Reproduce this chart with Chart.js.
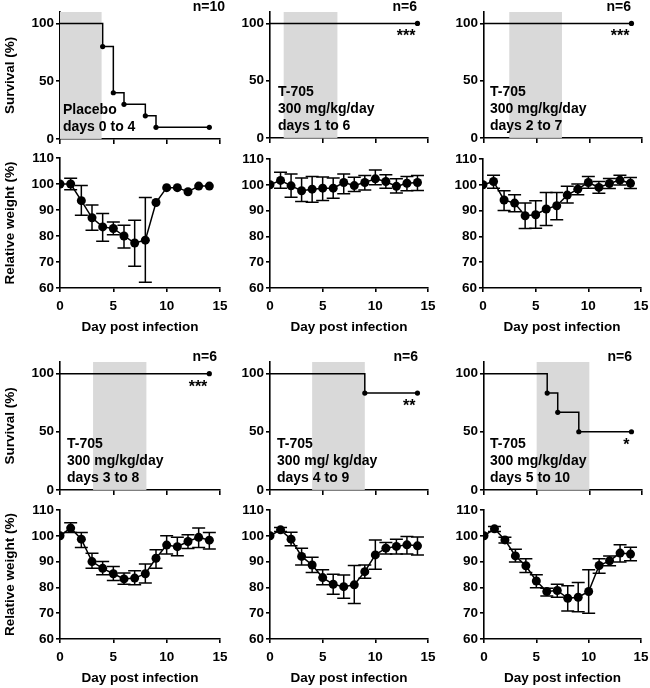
<!DOCTYPE html>
<html>
<head>
<meta charset="utf-8">
<script src="https://cdn.jsdelivr.net/npm/chart.js@4.4.0/dist/chart.umd.min.js"></script>
<style>
    html, body { margin: 0; padding: 0; background: #fff; overflow: hidden; }
    body { width: 650px; height: 688px; position: relative; }
    canvas { position: absolute; }
</style>
</head>
<body>
<script>
// --- Data ---
const days = [0, 1, 2, 3, 4, 5, 6, 7, 8, 9, 10, 11, 12, 13, 14];
const dayTicks = [0, 5, 10, 15];
const survivalTicks = [0, 50, 100];
const weightTicks = [60, 70, 80, 90, 100, 110];

// survival curves (event days, % surviving)
const s1Days = [0, 4, 5, 6, 8, 9, 14];
const s1Pct = [100, 80, 40, 30, 20, 10, 10];
const s2Days = [0, 14];
const s2Pct = [100, 100];
const s3Days = [0, 14];
const s3Pct = [100, 100];
const s4Days = [0, 14];
const s4Pct = [100, 100];
const s5Days = [0, 9, 14];
const s5Pct = [100, 83.3, 83.3];
const s6Days = [0, 6, 7, 9, 14];
const s6Pct = [100, 83.3, 66.7, 50, 50];

// treatment windows (shaded)
const shadeStart = [0, 1.3, 2.4, 3.1, 4, 5];
const shadeEnd = [3.9, 6.4, 7.4, 8.1, 9, 10];

// relative weight: mean, error bar top, error bar bottom
const w1Mean = [100, 100, 93.6, 87.0, 83.5, 82.9, 80.0, 77.3, 78.4, 92.9, 98.6, 98.6, 97.0, 99.2, 99.2];
const w1Hi = [null, 102.2, 99.4, 91.9, 88.7, 85.4, 84.1, 86.1, 94.8, null, null, null, null, null, null];
const w1Lo = [null, 97.8, 88.0, 82.2, 78.0, 80.5, 75.4, 68.4, 62.2, null, null, null, null, null, null];

const w2Mean = [100, 101.7, 99.6, 97.7, 98.3, 98.7, 98.7, 100.9, 99.7, 100.9, 102.3, 101.3, 99.4, 100.6, 100.9];
const w2Hi = [null, 104.9, 104.2, 102.6, 103.2, 103.0, 102.6, 104.2, 102.9, 103.6, 105.7, 103.9, 102.3, 103.2, 103.6];
const w2Lo = [null, 98.7, 95.2, 93.5, 93.2, 93.9, 94.8, 96.5, 97.4, 98.0, 100.0, 98.7, 96.8, 97.7, 97.8];

const w3Mean = [100, 101.3, 94.1, 92.9, 88.0, 88.4, 90.6, 91.9, 96.0, 98.3, 100.9, 99.0, 100.5, 101.8, 100.6];
const w3Hi = [null, 103.7, 97.7, 96.1, 92.9, 93.8, 97.0, 97.0, 99.4, 100.3, 103.2, 101.3, 102.4, 103.7, 102.8];
const w3Lo = [null, 98.7, 90.0, 89.6, 83.1, 83.2, 84.2, 86.5, 92.9, 96.1, 98.7, 96.7, 98.6, 99.9, 98.6];

const w4Mean = [100, 103.0, 98.7, 90.0, 87.4, 85.3, 83.3, 83.6, 85.3, 91.3, 96.4, 95.8, 97.8, 99.4, 98.3];
const w4Hi = [null, 105.1, 101.3, 93.2, 90.0, 88.1, 85.6, 86.5, 89.1, 94.6, 100.0, 99.4, 100.4, 103.0, 101.3];
const w4Lo = [null, 101.3, 95.5, 87.4, 84.9, 82.7, 81.2, 81.0, 81.7, 87.4, 92.9, 92.3, 95.1, 95.5, 94.9];

const w5Mean = [100, 102.3, 98.7, 92.0, 88.7, 83.8, 81.2, 80.3, 81.0, 86.1, 92.6, 95.2, 95.9, 96.5, 96.1];
const w5Hi = [null, 103.2, 101.4, 95.2, 91.7, 86.8, 85.1, 84.8, 88.5, 88.7, 98.4, 97.4, 98.7, 99.7, 99.5];
const w5Lo = [null, 101.7, 96.1, 88.7, 85.8, 81.0, 77.3, 75.8, 73.8, 83.5, 87.0, 92.9, 92.9, 92.9, 92.6];

const w6Mean = [100, 102.7, 98.4, 92.2, 88.4, 82.5, 78.4, 78.8, 75.8, 76.2, 78.4, 88.5, 90.3, 93.3, 92.9];
const w6Hi = [null, 103.6, 99.4, 94.8, 91.1, 84.9, 79.7, 81.2, 80.6, 81.9, 86.8, 91.1, 92.2, 96.5, 95.6];
const w6Lo = [null, 101.7, 97.2, 89.8, 85.8, 79.9, 76.7, 76.2, 70.9, 70.6, 70.0, 85.5, 88.4, 89.8, 90.3];

// text
const groupLabels = [
    ['Placebo', 'days 0 to 4'],
    ['T-705', '300 mg/kg/day', 'days 1 to 6'],
    ['T-705', '300 mg/kg/day', 'days 2 to 7'],
    ['T-705', '300 mg/kg/day', 'days 3 to 8'],
    ['T-705', '300 mg/ kg/day', 'days 4 to 9'],
    ['T-705', '300 mg/kg/day', 'days 5 to 10']
];
const nLabels = ['n=10', 'n=6', 'n=6', 'n=6', 'n=6', 'n=6'];
const sigLabels = ['', '***', '***', '***', '**', '*'];

const survDays = [s1Days, s2Days, s3Days, s4Days, s5Days, s6Days];
const survPct = [s1Pct, s2Pct, s3Pct, s4Pct, s5Pct, s6Pct];
const weightMean = [w1Mean, w2Mean, w3Mean, w4Mean, w5Mean, w6Mean];
const weightHi = [w1Hi, w2Hi, w3Hi, w4Hi, w5Hi, w6Hi];
const weightLo = [w1Lo, w2Lo, w3Lo, w4Lo, w5Lo, w6Lo];

// --- Layout (plot areas in page pixels) ---
const survAreas = [
    { l: 60, t: 12, r: 220, b: 139 },
    { l: 270, t: 12, r: 428, b: 138 },
    { l: 484, t: 12, r: 642, b: 138 },
    { l: 60, t: 362, r: 220, b: 490 },
    { l: 270, t: 362, r: 428, b: 490 },
    { l: 484, t: 362, r: 642, b: 490 }
];
const weightAreas = [
    { l: 60, t: 158, r: 220, b: 288 },
    { l: 270, t: 159, r: 428, b: 288 },
    { l: 483, t: 159, r: 641, b: 288 },
    { l: 60, t: 510, r: 220, b: 639 },
    { l: 270, t: 510, r: 428, b: 639 },
    { l: 484, t: 510, r: 641, b: 639 }
];
const labelDx = [3, 8, 6, 7, 7, 6];
const nDx = [5, -11, -11, -3, -10, -10];

const FONT = "'Liberation Sans', Arial, Helvetica, sans-serif";
Chart.defaults.font.family = FONT;
Chart.defaults.font.size = 13;
Chart.defaults.font.weight = 'bold';
Chart.defaults.color = '#000';
Chart.defaults.animation = false;

const Y_W = 60, PAD_T = 14, PAD_R = 14;

function makeCanvas(a, bottomExtra) {
    const c = document.createElement('canvas');
    const w = a.r - a.l + Y_W + PAD_R;
    const h = a.b - a.t + PAD_T + bottomExtra;
    c.width = w;
    c.height = h;
    c.style.left = (a.l - Y_W) + 'px';
    c.style.top = (a.t - PAD_T) + 'px';
    c.style.width = w + 'px';
    c.style.height = h + 'px';
    document.body.appendChild(c);
    return c;
}

function axisBase(tickValues, min, max) {
    return {
        type: 'linear',
        min: min,
        max: max,
        afterBuildTicks: s => { s.ticks = tickValues.map(v => ({ value: v })); },
        grid: { display: true, drawOnChartArea: false, drawTicks: true, tickLength: 4, color: '#000', lineWidth: 1.6 },
        border: { display: true, color: '#000', width: 1.6 },
        ticks: { padding: 2, maxRotation: 0, autoSkip: false, font: { size: 13.5, weight: 'bold' } }
    };
}

// shaded treatment window
function shadePlugin(i) {
    return {
        id: 'shade' + i,
        beforeDatasetsDraw(chart) {
            const { ctx, chartArea, scales: { x } } = chart;
            const x0 = x.getPixelForValue(shadeStart[i]);
            const x1 = x.getPixelForValue(shadeEnd[i]);
            ctx.save();
            ctx.fillStyle = '#d9d9d9';
            ctx.fillRect(x0, chartArea.top, x1 - x0, chartArea.bottom - chartArea.top);
            ctx.restore();
        }
    };
}

// group label, n and significance stars
function survTextPlugin(i) {
    return {
        id: 'survText' + i,
        afterDatasetsDraw(chart) {
            const { ctx, chartArea, scales: { x, y } } = chart;
            ctx.save();
            ctx.fillStyle = '#000';
            ctx.font = 'bold 14px ' + FONT;
            ctx.textAlign = 'left';
            ctx.textBaseline = 'middle';
            const lines = groupLabels[i];
            lines.forEach((txt, k) => {
                const yy = chartArea.bottom - 12 - (lines.length - 1 - k) * 17;
                ctx.fillText(txt, chartArea.left + labelDx[i], yy);
            });
            ctx.textAlign = 'right';
            ctx.fillText(nLabels[i], chartArea.right + nDx[i], chartArea.top - 5);
            if (sigLabels[i]) {
                const last = survDays[i].length - 1;
                const ex = x.getPixelForValue(survDays[i][last]);
                const ey = y.getPixelForValue(survPct[i][last]);
                ctx.font = 'bold 16px ' + FONT;
                ctx.textBaseline = 'alphabetic';
                ctx.fillText(sigLabels[i], ex - 2, ey + 18);
            }
            ctx.restore();
        }
    };
}

function errorBarPlugin(i) {
    return {
        id: 'errorBars' + i,
        beforeDatasetsDraw(chart) {
            const { ctx, scales: { x, y } } = chart;
            ctx.save();
            ctx.strokeStyle = '#000';
            ctx.lineWidth = 1.5;
            days.forEach((d, k) => {
                if (weightHi[i][k] == null) return;
                const px = x.getPixelForValue(d);
                const yh = y.getPixelForValue(weightHi[i][k]);
                const yl = y.getPixelForValue(weightLo[i][k]);
                ctx.beginPath();
                ctx.moveTo(px, yh); ctx.lineTo(px, yl);
                ctx.moveTo(px - 6.5, yh); ctx.lineTo(px + 6.5, yh);
                ctx.moveTo(px - 6.5, yl); ctx.lineTo(px + 6.5, yl);
                ctx.stroke();
            });
            ctx.restore();
        }
    };
}

function initSurvivalChart(i) {
    const SURV_B = 10;
    const canvas = makeCanvas(survAreas[i], SURV_B);
    const xAxis = axisBase(dayTicks, 0, 15);
    xAxis.ticks.display = false;
    xAxis.grid.tickLength = 5;
    xAxis.afterFit = s => { s.height = SURV_B; };
    const yAxis = axisBase(survivalTicks, 0, 110);
    yAxis.afterFit = s => { s.width = Y_W; };
    if (i % 3 === 0) {
        yAxis.title = { display: true, text: 'Survival (%)', font: { size: 13.5, weight: 'bold' }, padding: { top: 2, bottom: 0 } };
    }
    new Chart(canvas.getContext('2d'), {
        type: 'line',
        data: {
            datasets: [{
                data: survDays[i].map((d, k) => ({ x: d, y: survPct[i][k] })),
                stepped: true,
                borderColor: '#000',
                borderWidth: 1.5,
                pointRadius: ctx => ctx.dataIndex === 0 ? 0 : 2.6,
                pointBackgroundColor: '#000',
                pointBorderWidth: 0
            }]
        },
        options: {
            responsive: false,
            devicePixelRatio: 1,
            layout: { padding: { left: 0, top: PAD_T, right: PAD_R, bottom: 0 } },
            scales: { x: xAxis, y: yAxis },
            plugins: { legend: { display: false }, tooltip: { enabled: false } }
        },
        plugins: [shadePlugin(i), survTextPlugin(i)]
    });
}

function initWeightChart(i) {
    const WEIGHT_B = 50;
    const canvas = makeCanvas(weightAreas[i], WEIGHT_B);
    const xAxis = axisBase(dayTicks, 0, 15);
    xAxis.ticks.padding = 6;
    xAxis.afterFit = s => { s.height = WEIGHT_B; };
    xAxis.title = { display: true, text: 'Day post infection', font: { size: 13.5, weight: 'bold' }, padding: { top: 0, bottom: 3 } };
    const yAxis = axisBase(weightTicks, 60, 110);
    yAxis.afterFit = s => { s.width = Y_W; };
    if (i % 3 === 0) {
        yAxis.title = { display: true, text: 'Relative weight (%)', font: { size: 13.5, weight: 'bold' }, padding: { top: 2, bottom: 0 } };
    }
    new Chart(canvas.getContext('2d'), {
        type: 'line',
        data: {
            datasets: [{
                data: days.map((d, k) => ({ x: d, y: weightMean[i][k] })),
                borderColor: '#000',
                borderWidth: 1.5,
                pointRadius: 4.5,
                pointBackgroundColor: '#000',
                pointBorderWidth: 0
            }]
        },
        options: {
            responsive: false,
            devicePixelRatio: 1,
            layout: { padding: { left: 0, top: PAD_T, right: PAD_R, bottom: 0 } },
            scales: { x: xAxis, y: yAxis },
            plugins: { legend: { display: false }, tooltip: { enabled: false } }
        },
        plugins: [errorBarPlugin(i)]
    });
}

for (let i = 0; i < 6; i++) {
    initSurvivalChart(i);
    initWeightChart(i);
}
</script>
</body>
</html>
